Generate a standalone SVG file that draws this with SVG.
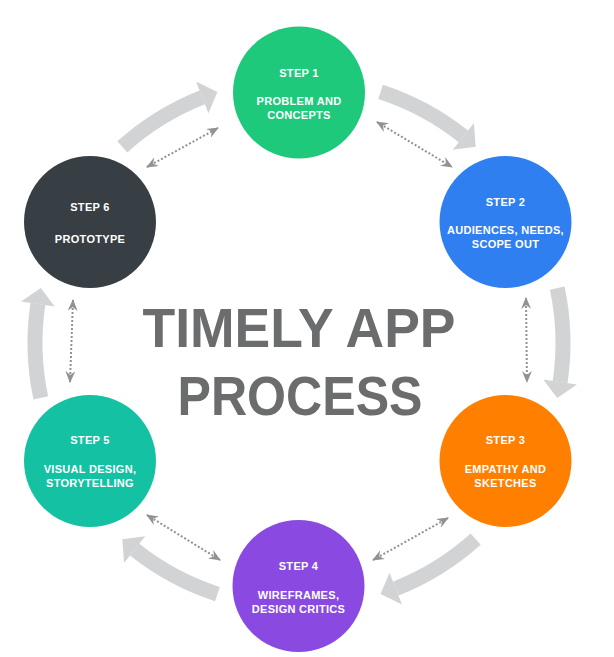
<svg xmlns="http://www.w3.org/2000/svg" width="614" height="657" viewBox="0 0 614 657">
<style>
.node text{font-family:"Liberation Sans",Arial,sans-serif;font-weight:bold;font-size:11px;fill:#ffffff;text-anchor:middle;letter-spacing:0.3px}
.shaft{fill:none;stroke:#d1d3d4;stroke-width:15;stroke-linecap:butt}
.head{fill:#d1d3d4}
.dot{fill:none;stroke:#929292;stroke-width:2;stroke-dasharray:2 2;marker-start:url(#dh);marker-end:url(#dh)}
.title{font-family:"Liberation Sans",Arial,sans-serif;font-weight:bold;font-size:55px;fill:#6b6c6e;text-anchor:middle}
</style>
<defs>
<marker id="dh" viewBox="0 0 12 10" refX="11" refY="5" markerWidth="12" markerHeight="10" markerUnits="userSpaceOnUse" orient="auto-start-reverse">
<path d="M0,0 L12,5 L0,10 L4,5 Z" fill="#929292"/>
</marker>
</defs>
<rect width="614" height="657" fill="#ffffff"/>
<g id="connectors">
<path class="shaft" d="M122.35 146.81 A264 264 0 0 1 202.24 97.37"/>
<polygon class="head" points="196.01,81.55 217.42,91.92 208.47,113.19"/>
<path class="shaft" d="M380.58 91.92 A264 264 0 0 1 463.34 136.39"/>
<polygon class="head" points="473.93,123.09 475.65,146.81 452.76,149.7"/>
<path class="shaft" d="M557.23 288.11 A264 264 0 0 1 560.1 382.02"/>
<polygon class="head" points="576.91,384.53 557.23,397.89 543.29,379.51"/>
<path class="shaft" d="M475.65 539.19 A264 264 0 0 1 395.76 588.63"/>
<polygon class="head" points="401.99,604.45 380.58,594.08 389.53,572.81"/>
<path class="shaft" d="M217.42 594.08 A264 264 0 0 1 134.66 549.61"/>
<polygon class="head" points="124.07,562.91 122.35,539.19 145.24,536.3"/>
<path class="shaft" d="M40.77 397.89 A264 264 0 0 1 37.9 303.98"/>
<polygon class="head" points="21.09,301.47 40.77,288.11 54.71,306.49"/>
<path class="dot" d="M147 167 L218 128"/>
<path class="dot" d="M377 122 L452 167"/>
<path class="dot" d="M526 298 L527 382"/>
<path class="dot" d="M448 518 L373 560"/>
<path class="dot" d="M220 560 L147 515"/>
<path class="dot" d="M70 382 L73 300"/>
</g>
<g id="node1" class="node">
<circle cx="299" cy="92.5" r="66" fill="#1ec97c"/>
<text x="299" y="77">STEP 1</text>
<text x="299" y="105">PROBLEM AND</text>
<text x="299" y="119">CONCEPTS</text>
</g>
<g id="node2" class="node">
<circle cx="505.5" cy="222" r="66" fill="#2f7ff0"/>
<text x="505.5" y="206">STEP 2</text>
<text x="505.5" y="234">AUDIENCES, NEEDS,</text>
<text x="505.5" y="248">SCOPE OUT</text>
</g>
<g id="node3" class="node">
<circle cx="505.5" cy="461" r="66" fill="#ff7f00"/>
<text x="505.5" y="444">STEP 3</text>
<text x="505.5" y="473">EMPATHY AND</text>
<text x="505.5" y="487">SKETCHES</text>
</g>
<g id="node4" class="node">
<circle cx="298.5" cy="586" r="66" fill="#8a4ae2"/>
<text x="298.5" y="570">STEP 4</text>
<text x="298.5" y="599">WIREFRAMES,</text>
<text x="298.5" y="613">DESIGN CRITICS</text>
</g>
<g id="node5" class="node">
<circle cx="90" cy="461" r="66" fill="#14c2a3"/>
<text x="90" y="444">STEP 5</text>
<text x="90" y="473">VISUAL DESIGN,</text>
<text x="90" y="487">STORYTELLING</text>
</g>
<g id="node6" class="node">
<circle cx="90" cy="222" r="66" fill="#383f44"/>
<text x="90" y="211">STEP 6</text>
<text x="90" y="243">PROTOTYPE</text>
</g>
<g id="title">
<text class="title" x="299" y="347" textLength="313" lengthAdjust="spacingAndGlyphs">TIMELY APP</text>
<text class="title" x="300" y="415" textLength="245" lengthAdjust="spacingAndGlyphs">PROCESS</text>
</g>
</svg>
